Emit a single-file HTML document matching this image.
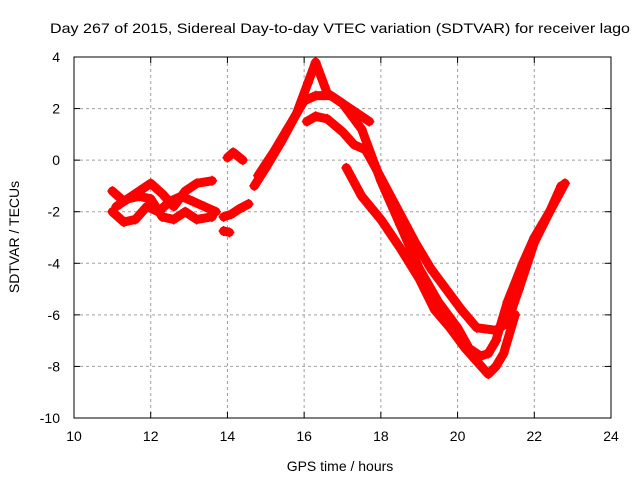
<!DOCTYPE html>
<html><head><meta charset="utf-8"><style>
body{margin:0;background:#fff}
svg text{font-family:"Liberation Sans",sans-serif;font-size:14px;fill:#000}
</style></head><body>
<svg id="chart" width="640" height="480" viewBox="0 0 640 480" xmlns="http://www.w3.org/2000/svg">
<rect width="640" height="480" fill="#fff"/>
<text x="50" y="33" textLength="580" lengthAdjust="spacingAndGlyphs">Day 267 of 2015, Sidereal Day-to-day VTEC variation (SDTVAR) for receiver lago</text>
<g id="grid"></g>
<g id="series"></g>
<rect x="74" y="57" width="537" height="361" fill="none" stroke="#000" stroke-width="1"/>
<g id="ticks"></g>
<text x="340" y="471" text-anchor="middle">GPS time / hours</text>
<text transform="translate(19,237) rotate(-90)" text-anchor="middle">SDTVAR / TECUs</text>
</svg>
<script>
const xTicks=[10,12,14,16,18,20,22,24];
const yTicks=[4,2,0,-2,-4,-6,-8,-10];
const trackA_x=[14.7,15.0,15.4,15.8,16.1,16.3,16.6,17.0,17.5,18.0,18.5,19.0,19.5,20.0,20.3,20.6,20.8,21.0,21.3,21.7,22.0,22.4,22.8];
const trackA_y=[-1.0,-0.3,0.7,1.8,3.0,3.8,2.6,2.2,1.2,-0.8,-2.5,-4.2,-5.5,-6.5,-7.3,-7.6,-7.5,-7.0,-5.5,-4.0,-3.0,-2.0,-0.9];
const trackB_x=[14.8,15.2,15.6,16.0,16.3,16.7,17.2,17.7];
const trackB_y=[-0.6,0.3,1.3,2.3,2.5,2.5,2.0,1.5];
const trackC_x=[16.07,16.3,16.6,17.0,17.3,17.6,17.9,18.4,18.9,19.3,19.7,20.1,20.5,21.0,21.3,21.6,22.0,22.4,22.7];
const trackC_y=[1.5,1.7,1.6,1.1,0.6,0.4,-0.4,-1.8,-3.2,-4.2,-5.0,-5.8,-6.5,-6.6,-6.3,-5.0,-3.2,-2.0,-1.0];
const trackD_x=[17.1,17.5,18.0,18.5,19.0,19.4,19.8,20.2,20.5,20.8,21.0,21.2,21.5];
const trackD_y=[-0.3,-1.4,-2.3,-3.4,-4.6,-5.8,-6.5,-7.3,-7.8,-8.3,-8.0,-7.5,-6.0];
const trackE_x=[11.0,11.3,11.7,12.0,12.3,12.6,12.9,13.2,13.6];
const trackE_y=[-1.2,-1.6,-1.2,-0.9,-1.3,-1.8,-1.2,-0.9,-0.8];
const trackF_x=[11.0,11.3,11.6,11.9,12.2,12.5,12.8,13.1,13.4,13.7];
const trackF_y=[-2.0,-2.4,-2.3,-1.8,-2.0,-1.6,-1.4,-1.6,-1.8,-2.0];
const trackG_x=[11.1,11.4,11.7,12.0,12.3,12.6,12.9,13.2,13.6];
const trackG_y=[-1.8,-1.5,-1.4,-1.5,-2.2,-2.3,-2.0,-2.3,-2.2];
const trackH_x=[13.9,14.1,14.3,14.55];
const trackH_y=[-2.2,-2.1,-1.9,-1.7];
const trackI_x=[14.0,14.15,14.4];
const trackI_y=[0.1,0.3,0.0];
const trackJ_x=[13.9,14.05];
const trackJ_y=[-2.75,-2.8];
const tracks=[[trackA_x,trackA_y],[trackB_x,trackB_y],[trackC_x,trackC_y],[trackD_x,trackD_y],[trackE_x,trackE_y],[trackF_x,trackF_y],[trackG_x,trackG_y],[trackH_x,trackH_y],[trackI_x,trackI_y],[trackJ_x,trackJ_y]];
const NS="http://www.w3.org/2000/svg";
const X0=74,X1=611,Y0=57,Y1=418;
function sx(v){return X0+(v-10)/14*(X1-X0);}
function sy(v){return Y0+(4-v)/14*(Y1-Y0);}
const grid=document.getElementById('grid'),ticks=document.getElementById('ticks'),ser=document.getElementById('series');
function mk(tag,attrs,parent){const e=document.createElementNS(NS,tag);for(const k in attrs)e.setAttribute(k,attrs[k]);parent.appendChild(e);return e;}
xTicks.forEach(t=>{
  const x=sx(t);
  if(t>10&&t<24){const g=mk('line',{x1:x,y1:Y0,x2:x,y2:Y1,stroke:'#a0a0a0','stroke-dasharray':'3,3'},grid);
  
  }
  mk('line',{x1:x,y1:Y1,x2:x,y2:Y1-6,stroke:'#000'},ticks);
  mk('line',{x1:x,y1:Y0,x2:x,y2:Y0+6,stroke:'#000'},ticks);
  const l=mk('text',{x:x,y:Y1+23,'text-anchor':'middle'},ticks);l.textContent=t;
  
  
});
yTicks.forEach(t=>{
  const y=sy(t);
  if(t<4&&t>-10){const g=mk('line',{x1:X0,y1:y,x2:X1,y2:y,stroke:'#a0a0a0','stroke-dasharray':'3,3'},grid);
  
  }
  mk('line',{x1:X0,y1:y,x2:X0+6,y2:y,stroke:'#000'},ticks);
  mk('line',{x1:X1,y1:y,x2:X1-6,y2:y,stroke:'#000'},ticks);
  const l=mk('text',{x:X0-14,y:y+5,'text-anchor':'end'},ticks);l.textContent=t;
  
  
});
tracks.forEach((tr,i)=>{
  const pts=tr[0].map((v,j)=>sx(v)+','+sy(tr[1][j])).join(' ');
  const p=mk('polyline',{points:pts,fill:'none',stroke:'#ff0000','stroke-width':9,'stroke-linejoin':'round','stroke-linecap':'round'},ser);
  
  
  tr[0].forEach((v,j)=>{
    const x=sx(v),y=sy(tr[1][j]);
    const m=mk('path',{d:`M${x-5},${y}H${x+5}M${x},${y-5}V${y+5}`,stroke:'#ff0000','stroke-width':1.5},ser);
    
    
  });
});
</script>
</body></html>
